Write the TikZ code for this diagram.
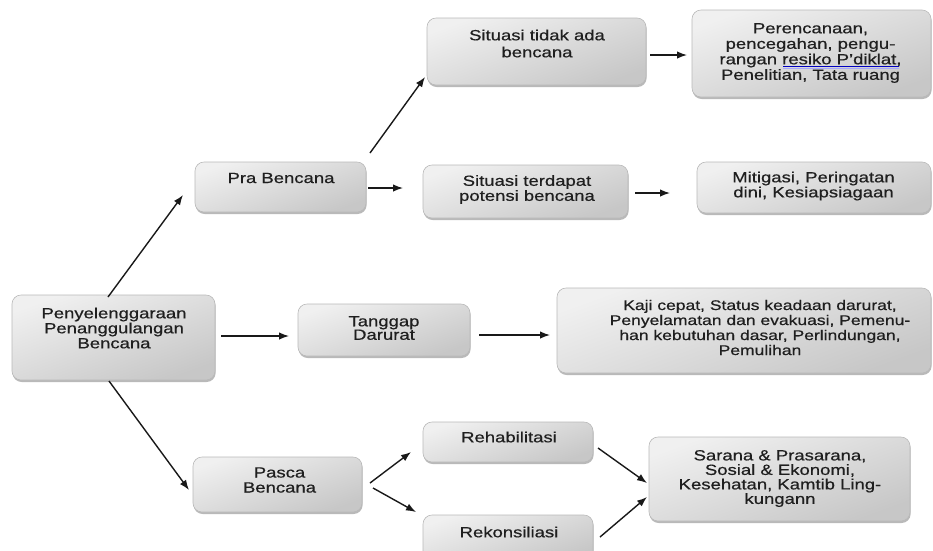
\documentclass[tikz,border=0pt]{standalone}
\usepackage{fontspec}
\setmainfont[FakeStretch=1.25,FakeBold=0.6]{Liberation Sans}
\usetikzlibrary{arrows.meta,calc,shadows}
\newcommand{\mytightlines}{\lineskiplimit=-20pt\relax}

\begin{document}
\begin{tikzpicture}[x=1pt,y=-1pt,
  box/.style={draw=gray!55, line width=0.6pt, rounded corners=9pt, inner sep=0pt, outer sep=0pt,
    top color=white!94!black, bottom color=white!78!black, shading angle=20,
    drop shadow={shadow xshift=0.6pt, shadow yshift=-2pt, fill=black!50, opacity=0.55}},
  txt/.style={align=center, inner sep=0pt, text=black!88},
  fs/.style={font={\fontsize{14.8}{#1}\selectfont\mytightlines}},
  arr/.style={-{Latex[length=10pt,width=7.5pt]}, line width=1.4pt, draw=black!90}]
\clip (0,0) rectangle (933,550);
\fill[white] (0,0) rectangle (933,550);

% boxes
\node[box, minimum width=203pt, minimum height=85pt] (pen) at (113.5,337.5) {};
\node[box, minimum width=171pt, minimum height=50pt] (pra) at (280.5,187) {};
\node[box, minimum width=219pt, minimum height=67pt] (sit1) at (536.5,51.5) {};
\node[box, minimum width=205pt, minimum height=53pt] (sit2) at (525.5,191.5) {};
\node[box, minimum width=239pt, minimum height=87pt] (per) at (811.5,53.5) {};
\node[box, minimum width=234pt, minimum height=51pt] (mit) at (814,187.5) {};
\node[box, minimum width=172pt, minimum height=52pt] (tgp) at (384,330) {};
\node[box, minimum width=374pt, minimum height=85pt] (kaji) at (744,330.5) {};
\node[box, minimum width=169pt, minimum height=55pt] (pasca) at (277.5,484.5) {};
\node[box, minimum width=170pt, minimum height=40pt] (rehab) at (508,442) {};
\node[box, minimum width=170pt, minimum height=45pt] (rekon) at (508,537.5) {};
\node[box, minimum width=261pt, minimum height=84pt] (sar) at (779.5,479) {};

% texts
\node[txt, fs=15] (penT) at (114,328) {Penyelenggaraan\\Penanggulangan\\Bencana};
\node[txt, fs=15] (praT) at (281,178) {Pra Bencana};
\node[txt, fs=17] (sit1T) at (537,43.5) {Situasi tidak ada\\bencana};
\node[txt, fs=15] (sit2T) at (527,189.5) {Situasi terdapat\\potensi bencana};
\node[txt, fs=15.5] (perT) at (810.5,53) {Perencanaan,\\pencegahan, pengu-\\rangan resiko P’diklat,\\Penelitian, Tata ruang};
\node[txt, fs=15] (mitT) at (813.5,186) {Mitigasi, Peringatan\\dini, Kesiapsiagaan};
\node[txt, fs=13.5] (tgpT) at (384,328) {Tanggap\\Darurat};
\node[txt, font={\fontsize{14}{15}\selectfont}] (kajiT) at (760,327.5) {Kaji cepat, Status keadaan darurat,\\Penyelamatan dan evakuasi, Pemenu-\\han kebutuhan dasar, Perlindungan,\\Pemulihan};
\node[txt, fs=15] (pascaT) at (279.5,480) {Pasca\\Bencana};
\node[txt, fs=15] (rehabT) at (509,437) {Rehabilitasi};
\node[txt, fs=15] (rekonT) at (509,532) {Rekonsiliasi};
\node[txt, fs=14.5] (sarT) at (780,478.5) {Sarana \& Prasarana,\\Sosial \& Ekonomi,\\Kesehatan, Kamtib Ling-\\kungann};

% spell-check underline
\draw[blue!75!black, line width=0.8pt] (783,66) -- (899,66);
\draw[blue!35, line width=0.8pt] (783,68) -- (899,68);

% connectors
\draw[arr] ($(pen.north)+(-5.5,2)$) -- ($(pra.west)+(-12,8)$);
\draw[arr] ($(pra.north east)+(4,-9)$) -- ($(sit1.south west)+(-2,-8)$);
\draw[arr] ($(pra.east)+(2,1)$) -- ($(sit2.west)+(-20,-3.5)$);
\draw[arr] ($(sit1.east)+(4,3.5)$) -- ($(per.west)+(-5,1.5)$);
\draw[arr] ($(sit2.east)+(7,1.5)$) -- ($(mit.west)+(-27,5.5)$);
\draw[arr] ($(pen.east)+(6,-1.5)$) -- ($(tgp.west)+(-9,6)$);
\draw[arr] ($(tgp.east)+(9,5)$) -- ($(kaji.west)+(-7,4.5)$);
\draw[arr] ($(pen.south)+(-4.5,1)$) -- ($(pasca.west)+(-4,5.5)$);
\draw[arr] ($(pasca.east)+(8,-1.5)$) -- ($(rehab.west)+(-12,10)$);
\draw[arr] ($(pasca.east)+(11,3.5)$) -- ($(rekon.west)+(-7,-25.5)$);
\draw[arr] ($(rehab.east)+(5,6)$) -- ($(sar.west)+(-2,4)$);
\draw[arr] ($(rekon.east)+(7,-0.5)$) -- ($(sar.west)+(-2,18)$);
\end{tikzpicture}
\end{document}
